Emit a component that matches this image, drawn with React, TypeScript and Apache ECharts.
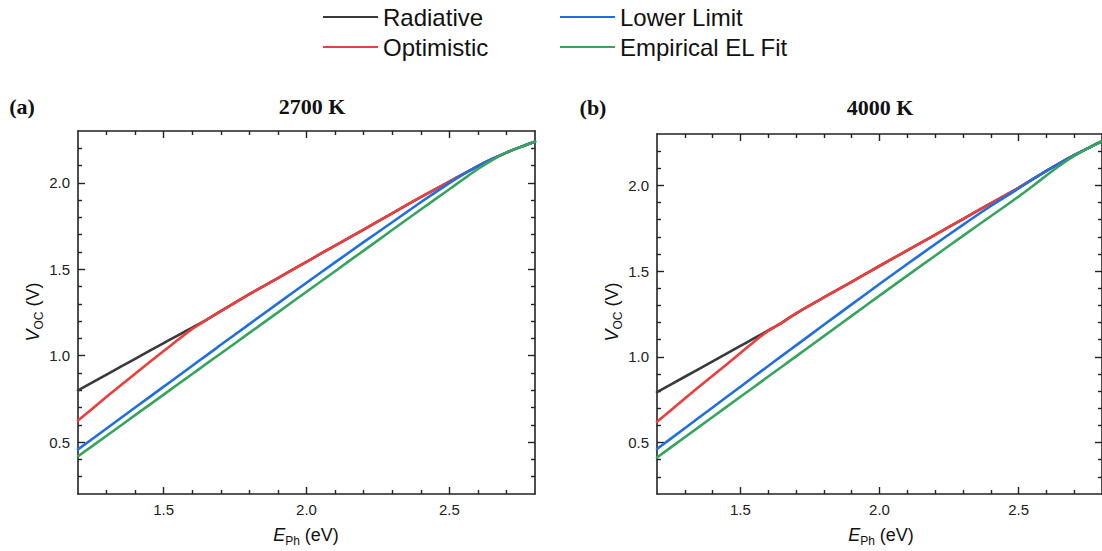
import React, { useEffect, useRef } from 'react';
import * as echarts from 'echarts';

// Photon energy (eV) sample points
const E_PH = [1.2, 1.3, 1.4, 1.5, 1.55, 1.6, 1.65, 1.7, 1.8, 1.9, 2.0, 2.1, 2.2, 2.3, 2.4, 2.5, 2.55, 2.6, 2.65, 2.7, 2.75, 2.8];

// (a) 2700 K
const RAD_2700 = [0.80, 0.891, 0.982, 1.073, 1.118, 1.163, 1.208, 1.258, 1.356, 1.449, 1.543, 1.637, 1.730, 1.824, 1.918, 2.007, 2.052, 2.097, 2.138, 2.175, 2.208, 2.238];
const OPT_2700 = [0.625, 0.762, 0.896, 1.027, 1.092, 1.155, 1.207, 1.258, 1.356, 1.449, 1.543, 1.637, 1.730, 1.824, 1.918, 2.007, 2.052, 2.097, 2.138, 2.175, 2.208, 2.238];
const LOW_2700 = [0.458, 0.579, 0.70, 0.821, 0.881, 0.942, 1.002, 1.063, 1.183, 1.303, 1.422, 1.54, 1.657, 1.772, 1.888, 1.998, 2.05, 2.097, 2.138, 2.175, 2.208, 2.238];
const EL_2700 = [0.418, 0.537, 0.656, 0.775, 0.835, 0.894, 0.954, 1.013, 1.132, 1.251, 1.37, 1.489, 1.608, 1.727, 1.846, 1.963, 2.022, 2.08, 2.132, 2.175, 2.208, 2.238];

// (b) 4000 K
const RAD_4000 = [0.794, 0.884, 0.974, 1.064, 1.109, 1.154, 1.2, 1.254, 1.347, 1.438, 1.53, 1.621, 1.712, 1.804, 1.895, 1.986, 2.035, 2.085, 2.132, 2.176, 2.218, 2.258];
const OPT_4000 = [0.621, 0.757, 0.89, 1.022, 1.09, 1.152, 1.2, 1.254, 1.347, 1.438, 1.53, 1.621, 1.712, 1.804, 1.895, 1.986, 2.035, 2.085, 2.132, 2.176, 2.218, 2.258];
const LOW_4000 = [0.462, 0.584, 0.705, 0.826, 0.887, 0.947, 1.007, 1.067, 1.187, 1.306, 1.425, 1.542, 1.657, 1.77, 1.88, 1.982, 2.035, 2.085, 2.132, 2.176, 2.218, 2.258];
const EL_4000 = [0.413, 0.531, 0.649, 0.767, 0.826, 0.885, 0.944, 1.003, 1.121, 1.239, 1.357, 1.474, 1.59, 1.706, 1.82, 1.935, 1.995, 2.058, 2.118, 2.172, 2.218, 2.258];

const SERIES_NAMES = ['Radiative', 'Optimistic', 'Lower Limit', 'Empirical EL Fit'];
const SERIES_COLORS = ['#3a3a3a', '#ee3d3d', '#1f6fe3', '#35a55e'];
const PANEL_TITLES = ['2700 K', '4000 K'];
const PANEL_TAGS = ['(a)', '(b)'];

const X_MAJOR = [1.5, 2.0, 2.5];
const X_MINOR = [1.3, 1.4, 1.6, 1.7, 1.8, 1.9, 2.1, 2.2, 2.3, 2.4, 2.6, 2.7];
const Y_MAJOR = [0.5, 1.0, 1.5, 2.0];
const Y_MINOR = [0.3, 0.4, 0.6, 0.7, 0.8, 0.9, 1.1, 1.2, 1.3, 1.4, 1.6, 1.7, 1.8, 1.9, 2.1, 2.2];
const X_MIN = 1.2, X_MAX = 2.8, Y_MIN = 0.2, Y_MAX = 2.3;

const AXIS_COLOR = '#222';
const SANS = '"Liberation Sans", Arial, sans-serif';
const SERIF = '"Liberation Serif", "Times New Roman", serif';

function axisSet(dim: 'x' | 'y', gridIndex: number) {
  const isX = dim === 'x';
  const pos1 = isX ? 'bottom' : 'left';
  const pos2 = isX ? 'top' : 'right';
  const min = isX ? X_MIN : Y_MIN;
  const max = isX ? X_MAX : Y_MAX;
  const major = isX ? X_MAJOR : Y_MAJOR;
  const minor = isX ? X_MINOR : Y_MINOR;
  const base = (position: string, showLine: boolean, ticks: number[], len: number, labels: boolean) => ({
    type: 'value',
    gridIndex,
    position,
    min,
    max,
    splitLine: { show: false },
    axisLine: { show: showLine, onZero: false, lineStyle: { color: AXIS_COLOR, width: 1.6 } },
    axisTick: { show: true, inside: true, length: len, customValues: ticks, lineStyle: { color: AXIS_COLOR, width: 1.4 } },
    axisLabel: labels
      ? {
          show: true,
          customValues: major,
          formatter: (v: number) => v.toFixed(1),
          margin: 8,
          fontSize: 15,
          color: AXIS_COLOR,
          fontFamily: SANS,
        }
      : { show: false },
  });
  return [
    base(pos1, true, major, 7, true),
    base(pos1, false, minor, 4, false),
    base(pos2, true, major, 7, false),
    base(pos2, false, minor, 4, false),
  ];
}

const PANELS = [
  { data: [RAD_2700, OPT_2700, LOW_2700, EL_2700] },
  { data: [RAD_4000, OPT_4000, LOW_4000, EL_4000] },
];

export default function App() {
  const ref = useRef<HTMLDivElement>(null);
  useEffect(() => {
    document.body.style.margin = '0';
    if (!ref.current) return;
    const chart = echarts.init(ref.current, null, { renderer: 'svg' });

    const grids = [
      { left: 78, top: 131, width: 457, height: 363 },
      { left: 657, top: 134, width: 449, height: 360 },
    ];
    const xAxis: any[] = [...axisSet('x', 0), ...axisSet('x', 1)];
    const yAxis: any[] = [...axisSet('y', 0), ...axisSet('y', 1)];

    const series: any[] = [];
    PANELS.forEach((p, g) => {
      p.data.forEach((vals, k) => {
        series.push({
          type: 'line',
          name: SERIES_NAMES[k],
          xAxisIndex: g * 4,
          yAxisIndex: g * 4,
          data: E_PH.map((e, i) => [e, vals[i]]),
          showSymbol: false,
          symbol: 'none',
          smooth: 0.2,
          color: SERIES_COLORS[k],
          lineStyle: { width: 2.6, color: SERIES_COLORS[k], join: 'round', cap: 'round' },
          z: 2 + k,
        });
      });
    });

    const legendCommon = {
      orient: 'vertical',
      top: 3,
      padding: 0,
      icon: 'rect',
      itemWidth: 55,
      itemHeight: 2,
      itemGap: 2,
      selectedMode: false,
      textStyle: { fontSize: 24, color: '#111', fontFamily: SANS, lineHeight: 28 },
    };

    const rich = {
      i: { fontStyle: 'italic', fontSize: 18, fontFamily: SANS, fill: '#111', lineHeight: 24 },
      s: { fontSize: 12, fontFamily: SANS, fill: '#111', lineHeight: 12, verticalAlign: 'bottom' },
      n: { fontSize: 18, fontFamily: SANS, fill: '#111', lineHeight: 24 },
    };

    const graphic: any[] = [];
    const tagX = [22, 593];
    const titleX = [312, 880];
    const titleY = [106, 107];
    const yTitleX = [33, 612];
    const xTitleX = [306, 881];
    [0, 1].forEach((g) => {
      graphic.push({
        type: 'text', x: tagX[g], y: titleY[g],
        style: { text: PANEL_TAGS[g], font: `bold 22px ${SERIF}`, fill: '#111', align: 'center', verticalAlign: 'middle' },
      });
      graphic.push({
        type: 'text', x: titleX[g], y: titleY[g],
        style: { text: PANEL_TITLES[g], font: `bold 22px ${SERIF}`, fill: '#111', align: 'center', verticalAlign: 'middle' },
      });
      graphic.push({
        type: 'text', x: yTitleX[g], y: 312, rotation: Math.PI / 2,
        style: { text: '{i|V}{s|OC}{n| (V)}', rich, align: 'center', verticalAlign: 'middle' },
      });
      graphic.push({
        type: 'text', x: xTitleX[g], y: 535,
        style: { text: '{i|E}{s|Ph}{n| (eV)}', rich, align: 'center', verticalAlign: 'middle' },
      });
    });

    chart.setOption({
      animation: false,
      backgroundColor: '#fff',
      grid: grids,
      xAxis,
      yAxis,
      series,
      legend: [
        { ...legendCommon, left: 323, data: ['Radiative', 'Optimistic'] },
        { ...legendCommon, left: 560, data: ['Lower Limit', 'Empirical EL Fit'] },
      ],
      graphic,
    });
    return () => chart.dispose();
  }, []);
  return <div ref={ref} style={{ width: 1102, height: 551 }} />;
}
